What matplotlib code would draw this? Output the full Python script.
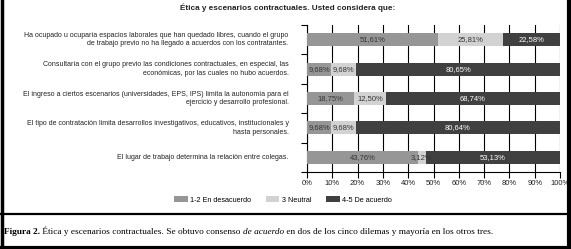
import matplotlib
matplotlib.use("Agg")
import matplotlib.pyplot as plt
from matplotlib.patches import Patch
from matplotlib.lines import Line2D
from matplotlib.offsetbox import TextArea, HPacker, AnchoredOffsetbox
import numpy as np

categories = [
    "Ha ocupado u ocuparía espacios laborales que han quedado libres, cuando el grupo\nde trabajo previo no ha llegado a acuerdos con los contratantes.",
    "Consultaría con el grupo previo las condiciones contractuales, en especial, las\neconómicas, por las cuales no hubo acuerdos.",
    "El ingreso a ciertos escenarios (universidades, EPS, IPS) limita la autonomía para el\nejercicio y desarrollo profesional.",
    "El tipo de contratación limita desarrollos investigativos, educativos, institucionales y\nhasta personales.",
    "El lugar de trabajo determina la relación entre colegas.",
]
series_names = ["1-2 En desacuerdo", "3 Neutral", "4-5 De acuerdo"]
desacuerdo = [51.61, 9.68, 18.75, 9.68, 43.76]
neutral = [25.81, 9.68, 12.50, 9.68, 3.12]
acuerdo = [22.58, 80.65, 68.74, 80.64, 53.13]
xticks = [0, 10, 20, 30, 40, 50, 60, 70, 80, 90, 100]

colors = ["#969696", "#d2d2d2", "#404040"]
text_colors = ["#333333", "#333333", "white"]

plt.rcParams['font.family'] = ['Liberation Sans', 'DejaVu Sans']
W, H = 571, 249
fig = plt.figure(figsize=(W / 100, H / 100), dpi=100)

ax = fig.add_axes([307 / W, 1 - 172 / H, (560 - 307) / W, (172 - 25) / H])

n = len(categories)
y = np.arange(n)
left = np.zeros(n)
fs = 5.5
cat_fs = 5.05
for vals, c, tc in zip([desacuerdo, neutral, acuerdo], colors, text_colors):
    vals = np.array(vals)
    ax.barh(y, vals, left=left, height=0.44, color=c, zorder=3)
    for yi, l, v in zip(y, left, vals):
        ax.text(l + v / 2, yi, f"{v:.2f}%".replace(".", ","), ha="center", va="center",
                fontsize=fs, color=tc, zorder=4)
    left = left + vals

ax.set_xlim(0, 100)
ax.set_ylim(n - 0.5, -0.5)
ax.set_xticks(xticks)
ax.set_xticklabels([f"{t}%" for t in xticks], fontsize=fs, color="#222222")
ax.set_yticks(np.arange(-0.5, n, 1.0))
ax.set_yticklabels([])
ax.tick_params(axis="y", length=4, width=0.8, direction="out")
ax.tick_params(axis="x", length=4, width=0.8, direction="out", pad=2)
ax.xaxis.grid(True, color="black", linewidth=0.8, zorder=0)
for s in ["top", "right"]:
    ax.spines[s].set_visible(False)
ax.spines["left"].set_linewidth(0.8)
ax.spines["bottom"].set_linewidth(0.8)

for yi, cat in zip(y, categories):
    ax.text(-0.073, yi, cat, transform=ax.get_yaxis_transform(), ha="right", va="center",
            fontsize=cat_fs, color="#222222", linespacing=1.3)

fig.text(288 / W, 1 - 8 / H, "Ética y escenarios contractuales. Usted considera que:",
         ha="center", va="center", fontsize=5.9, fontweight="bold", color="#222222")

handles = [Patch(facecolor=c, edgecolor="none") for c in colors]
fig.legend(handles, series_names, loc="center", bbox_to_anchor=(283 / W, 1 - 200 / H),
           ncol=3, frameon=False, fontsize=5.2, handlelength=1.9, handleheight=0.75,
           columnspacing=2.0, handletextpad=0.35)

# separator line
fig.add_artist(Line2D([0, 1], [1 - 214 / H, 1 - 214 / H], transform=fig.transFigure,
                      color="black", linewidth=1.6))

# caption
cfs = 6.7
serif = ['Liberation Serif', 'DejaVu Serif']
parts = [
    TextArea("Figura 2.", textprops=dict(fontsize=cfs, fontweight="bold", family=serif)),
    TextArea(" Ética y escenarios contractuales. Se obtuvo consenso ", textprops=dict(fontsize=cfs, family=serif)),
    TextArea("de acuerdo", textprops=dict(fontsize=cfs, style="italic", family=serif)),
    TextArea(" en dos de los cinco dilemas y mayoría en los otros tres.", textprops=dict(fontsize=cfs, family=serif)),
]
box = HPacker(children=parts, align="baseline", pad=0, sep=0)
ab = AnchoredOffsetbox(loc="center left", child=box, pad=0, frameon=False,
                       bbox_to_anchor=(4 / W, 1 - 231 / H), bbox_transform=fig.transFigure,
                       borderpad=0)
fig.add_artist(ab)

# border
fig.add_artist(Line2D([1.5 / W, 1.5 / W], [0, 1], transform=fig.transFigure, color="black", linewidth=2.5))
fig.add_artist(Line2D([1 - 2 / W, 1 - 2 / W], [0, 1], transform=fig.transFigure, color="black", linewidth=3))
fig.add_artist(Line2D([0, 1], [1.5 / H, 1.5 / H], transform=fig.transFigure, color="black", linewidth=3))

fig.savefig("out.png", dpi=100)
